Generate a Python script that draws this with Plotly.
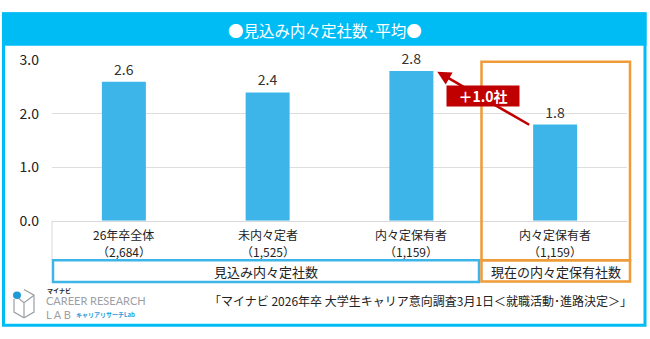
import plotly.graph_objects as go

W, H = 650, 339

categories = ["c1", "c2", "c3", "c4"]
values = [2.6, 2.4, 2.8, 1.8]
value_labels = ["2.6", "2.4", "2.8", "1.8"]
cat_line1 = ["26年卒全体", "未内々定者", "内々定保有者", "内々定保有者"]
cat_line2 = ["（2,684）", "（1,525）", "（1,159）", "（1,159）"]
y_ticks = [0, 1, 2, 3]
y_tick_labels = ["0.0", "1.0", "2.0", "3.0"]

title_text = "●見込み内々定社数･平均●"
group1_label = "見込み内々定社数"
group2_label = "現在の内々定保有社数"
diff_label = "＋1.0社"
source_text = "「マイナビ 2026年卒 大学生キャリア意向調査3月1日＜就職活動･進路決定＞」"

CYAN = "#00BCF5"
BAR = "#3DB5E8"
ORANGE = "#EE9B38"
RED = "#C00000"
FONT = "Noto Sans CJK JP"


def px(x):
    return x / W


def py(y):
    return 1 - y / H


fig = go.Figure()
fig.add_trace(go.Bar(
    x=categories, y=values, width=0.306,
    marker=dict(color=BAR, line=dict(width=0)),
    text=value_labels, textposition="outside", cliponaxis=False,
    textfont=dict(family=FONT, size=14, color="#333333"),
    hoverinfo="skip",
))

shapes = []
annotations = []

# outer frame and title bar
shapes.append(dict(type="rect", xref="paper", yref="paper",
                   x0=px(3.5), x1=px(645), y0=py(3), y1=py(334),
                   line=dict(color=CYAN, width=3), fillcolor="rgba(0,0,0,0)", layer="below"))
shapes.append(dict(type="rect", xref="paper", yref="paper",
                   x0=px(2), x1=px(646.5), y0=py(1.5), y1=py(37),
                   line=dict(width=0), fillcolor=CYAN, layer="below"))
annotations.append(dict(xref="paper", yref="paper", x=0.5, y=py(20), text=title_text,
                        showarrow=False, font=dict(family=FONT, size=15.5, color="white"),
                        xanchor="center", yanchor="middle"))

# category label table left border
shapes.append(dict(type="line", xref="paper", yref="paper",
                   x0=px(52), x1=px(52), y0=py(223), y1=py(265),
                   line=dict(color="#D9D9D9", width=1)))

# group boxes
shapes.append(dict(type="rect", xref="paper", yref="paper",
                   x0=px(53), x1=px(479), y0=py(265), y1=py(288),
                   line=dict(color=BAR, width=2.5)))
shapes.append(dict(type="rect", xref="paper", yref="paper",
                   x0=px(481.5), x1=px(630), y0=py(54), y1=py(265),
                   line=dict(color=ORANGE, width=2.5)))
shapes.append(dict(type="rect", xref="paper", yref="paper",
                   x0=px(481.5), x1=px(630), y0=py(265), y1=py(287.5),
                   line=dict(color=ORANGE, width=2.5)))
annotations.append(dict(xref="paper", yref="paper", x=px(266), y=py(276.5), text=group1_label,
                        showarrow=False, font=dict(family=FONT, size=13, color="#222222"),
                        xanchor="center", yanchor="middle"))
annotations.append(dict(xref="paper", yref="paper", x=px(556), y=py(276.5), text=group2_label,
                        showarrow=False, font=dict(family=FONT, size=13, color="#222222"),
                        xanchor="center", yanchor="middle"))

# category labels
for c, l1, l2 in zip(categories, cat_line1, cat_line2):
    annotations.append(dict(xref="x", yref="paper", x=c, y=py(237.5), text=l1,
                            showarrow=False, font=dict(family=FONT, size=12, color="#222222"),
                            xanchor="center", yanchor="middle", borderpad=0))
    annotations.append(dict(xref="x", yref="paper", x=c, y=py(255.5), text=l2,
                            showarrow=False, font=dict(family=FONT, size=12, color="#222222"),
                            xanchor="center", yanchor="middle", borderpad=0))

# difference arrow
annotations.append(dict(xref="x", yref="y", axref="x", ayref="y",
                        x=2.18, y=2.79, ax=2.83, ay=1.78, text="",
                        showarrow=True, arrowhead=2, arrowsize=1.1, arrowwidth=2.5,
                        arrowcolor=RED))
annotations.append(dict(xref="x", yref="y", x=2.5, y=2.33, text="<b>" + diff_label + "</b>",
                        showarrow=False, bgcolor=RED, borderpad=2,
                        font=dict(family=FONT, size=14, color="white"),
                        width=68, height=16, xanchor="center", yanchor="middle"))

# source
annotations.append(dict(xref="paper", yref="paper", x=px(634), y=py(307.5), text=source_text,
                        showarrow=False, font=dict(family=FONT, size=12, color="#222222"),
                        xanchor="right", yanchor="middle"))

# logo
LOGO_GRAY = "#9AA0A6"
shapes.append(dict(type="path", xref="paper", yref="paper",
                   path=f"M {px(24)},{py(296)} L {px(34)},{py(302)} L {px(34)},{py(320)} L {px(24)},{py(326)} L {px(14)},{py(320)} L {px(14)},{py(306)}",
                   line=dict(color=LOGO_GRAY, width=1.2)))
shapes.append(dict(type="path", xref="paper", yref="paper",
                   path=f"M {px(17)},{py(304)} L {px(24)},{py(310)} L {px(34)},{py(302)} M {px(24)},{py(310)} L {px(24)},{py(326)}",
                   line=dict(color=LOGO_GRAY, width=1.2)))
shapes.append(dict(type="circle", xref="paper", yref="paper",
                   x0=px(13), x1=px(21), y0=py(298), y1=py(306),
                   fillcolor="#1E9BD7", line=dict(width=0)))
annotations.append(dict(xref="paper", yref="paper", x=px(45), y=py(297), text="<b>マイナビ</b>",
                        showarrow=False, font=dict(family=FONT, size=6, color="#222222"),
                        xanchor="left", yanchor="middle"))
annotations.append(dict(xref="paper", yref="paper", x=px(44), y=py(308), text="CAREER RESEARCH",
                        showarrow=False, font=dict(family="Lato", size=11, color=LOGO_GRAY),
                        xanchor="left", yanchor="middle"))
annotations.append(dict(xref="paper", yref="paper", x=px(44), y=py(322), text="L A B",
                        showarrow=False, font=dict(family="Lato", size=11, color=LOGO_GRAY),
                        xanchor="left", yanchor="middle"))
annotations.append(dict(xref="paper", yref="paper", x=px(74), y=py(322), text="<b>キャリアリサーチLab</b>",
                        showarrow=False, font=dict(family=FONT, size=6, color="#1E9BD7"),
                        xanchor="left", yanchor="middle"))

fig.update_layout(
    width=W, height=H,
    margin=dict(l=0, r=0, t=0, b=0),
    paper_bgcolor="white", plot_bgcolor="white",
    showlegend=False,
    shapes=shapes, annotations=annotations,
    xaxis=dict(domain=[px(52), px(627)], range=[-0.5, 3.5], showticklabels=False,
               showgrid=False, showline=True, linecolor="#D9D9D9", linewidth=1,
               zeroline=False, fixedrange=True),
    yaxis=dict(domain=[py(223), py(52.5)], range=[0, 3], tickvals=y_ticks,
               ticktext=y_tick_labels, showgrid=True, gridcolor="#DEDEDE", gridwidth=1,
               zeroline=False, showline=False, ticks="", ticklabelstandoff=12,
               tickfont=dict(family=FONT, size=14, color="#222222"), fixedrange=True),
)

fig.write_html("out.html")
